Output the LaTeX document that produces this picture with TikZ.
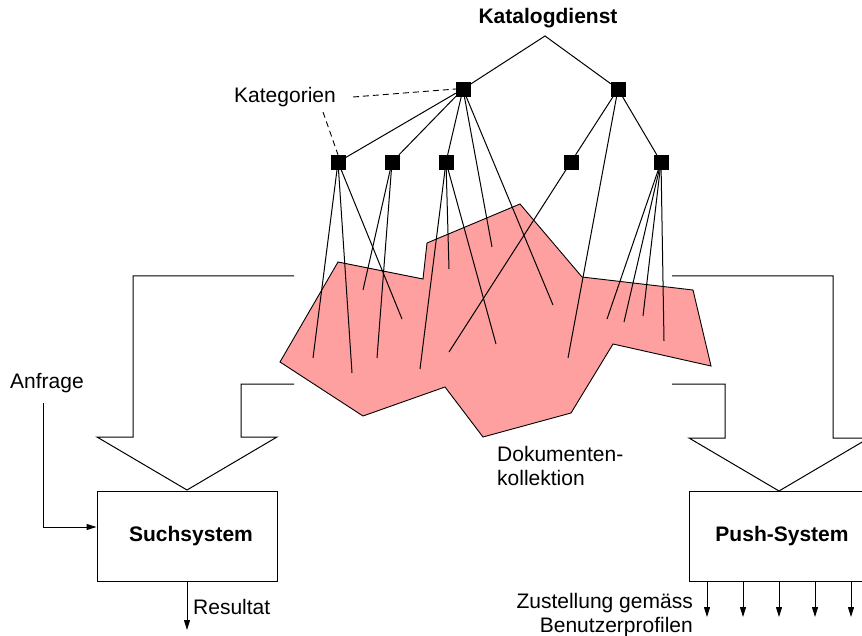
\documentclass[tikz,border=0pt]{standalone}
\usepackage{fontspec}
\setmainfont{Liberation Sans}
\usetikzlibrary{arrows.meta}
\definecolor{colcoll}{HTML}{FFA0A0}
\tikzset{
  cat/.style={draw=black,fill=black,minimum size=14pt,inner sep=0pt},
  lbl/.style={inner sep=0pt,font=\fontsize{21}{24.5}\selectfont},
  blbl/.style={inner sep=0pt,font=\fontsize{21}{25}\selectfont\bfseries},
  ln/.style={line width=1pt},
  dashln/.style={line width=0.9pt,dash pattern=on 6pt off 4pt},
  arr/.style={line width=1pt,-{Triangle[length=10pt,width=6pt]}},
  sysbox/.style={draw,line width=1pt,minimum width=180pt,minimum height=90pt,inner sep=0pt},
  bigarrow/.style={draw,line width=1pt},
  coll/.style={draw,line width=0.9pt,fill=colcoll},
}
\begin{document}
\begin{tikzpicture}[x=1pt,y=-1pt]
\useasboundingbox (0,0) rectangle (862,636);
\clip (0,0) rectangle (862,636);

% document collection
\draw[coll] (338,262) -- (423,279) -- (427,243) -- (520,204) -- (582,277) -- (693,290)
  -- (711,366) -- (613,344) -- (571,413) -- (483,437) -- (445,387) -- (363,416)
  -- (280,362) -- cycle;

% nodes of the catalogue
\node[blbl] (kat) at (548,18) {Katalogdienst};
\coordinate (apex) at (545,36);
\node[cat] (A) at (463,89) {};
\node[cat] (C) at (618,89) {};
\node[cat] (B1) at (338,162) {};
\node[cat] (B2) at (392,162) {};
\node[cat] (B3) at (446,162) {};
\node[cat] (B4) at (571,162) {};
\node[cat] (B5) at (661,162) {};

% leaf coordinates (documents)
\coordinate (a1) at (492,247);
\coordinate (a2) at (553,305);
\coordinate (c1) at (568,358);
\coordinate (d11) at (313,358);
\coordinate (d12) at (352,373);
\coordinate (d13) at (402,319);
\coordinate (d21) at (363,290);
\coordinate (d22) at (377,358);
\coordinate (d31) at (420,369);
\coordinate (d32) at (449,269);
\coordinate (d33) at (496,344);
\coordinate (d41) at (449,352);
\coordinate (d51) at (607,319);
\coordinate (d52) at (624,322);
\coordinate (d53) at (643,316);
\coordinate (d54) at (664,341);

\draw[ln] (A) -- (apex) -- (C);
\draw[ln] (A) -- (B1);
\draw[ln] (A) -- (B2);
\draw[ln] (A) -- (B3);
\draw[ln] (A.center) -- (a1);
\draw[ln] (A.center) -- (a2);
\draw[ln] (C) -- (B4);
\draw[ln] (C) -- (B5);
\draw[ln] (C.center) -- (c1);
\foreach \t in {d11,d12,d13} \draw[ln] (B1.center) -- (\t);
\foreach \t in {d21,d22} \draw[ln] (B2.center) -- (\t);
\foreach \t in {d31,d32,d33} \draw[ln] (B3.center) -- (\t);
\draw[ln] (B4.center) -- (d41);
\foreach \t in {d51,d52,d53,d54} \draw[ln] (B5.center) -- (\t);

% Kategorien label
\node[lbl] (kl) at (285,97) {Kategorien};
\draw[dashln] (353,97) -- (A.west);
\draw[dashln] (323,112) -- (B1.north);

% big arrows
\draw[bigarrow] (294,276) -- (133,276) -- (133,437) -- (97,437) -- (187,490)
  -- (277,437) -- (241,437) -- (241,384) -- (294,384);
\draw[bigarrow] (672,276) -- (833,276) -- (833,438) -- (869,438) -- (779,491)
  -- (689,438) -- (725,438) -- (725,384) -- (672,384);

% systems
\node[sysbox] (such) at (187,536) {};
\node[blbl] at (191,536) {Suchsystem};
\node[sysbox] (push) at (779,536) {};
\node[blbl] at (782,536) {Push-System};

% Anfrage
\node[lbl] (anf) at (47,383) {Anfrage};
\coordinate (anfstart) at (43,403);
\draw[arr] (anfstart) |- ([yshift=9pt]such.west);

% Resultat
\coordinate (res) at (187,630);
\draw[arr] (such.south) -- (res);
\node[lbl,anchor=west] at (193,607) {Resultat};

% Push outputs
\foreach \i/\x in {1/707,2/743,3/779,4/815,5/851,6/887} {
  \coordinate (po\i) at (\x,617);
  \draw[arr] (\x,581) -- (po\i);
}
\node[lbl,anchor=east,align=right] at (693,615) {Zustellung gemäss\\Benutzerprofilen};

% collection label
\node[lbl,anchor=west,align=left] at (497,466) {Dokumenten-\\kollektion};
\end{tikzpicture}
\end{document}
